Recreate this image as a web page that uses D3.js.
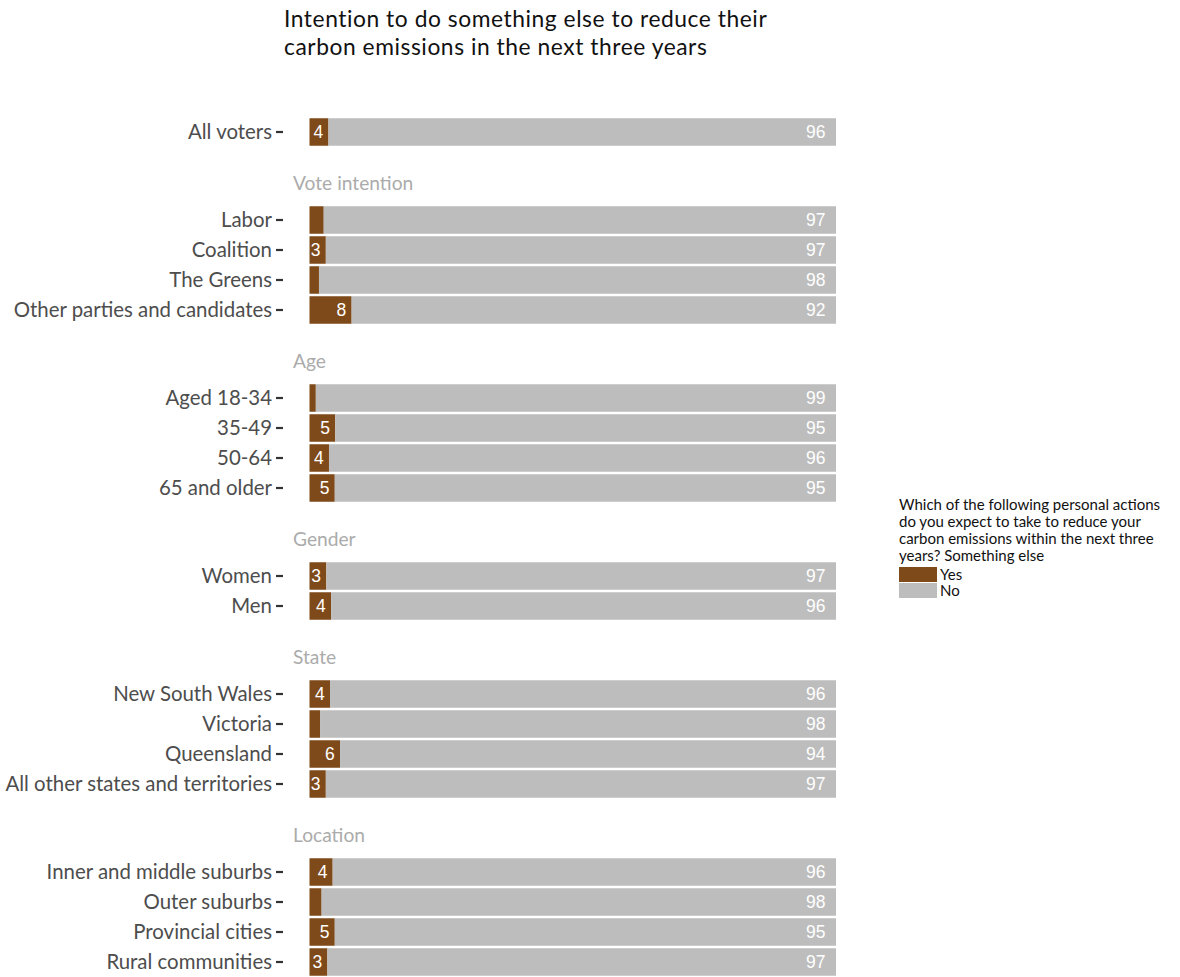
<!DOCTYPE html>
<html>
<head>
<meta charset="utf-8">
<script src="https://cdn.jsdelivr.net/npm/d3@7"></script>
<style>
  body { margin: 0; background: #fff; }
  svg { display: block; }
</style>
</head>
<body>
<svg id="chart" width="1180" height="977"></svg>
<script>
// ---- Data ----
const groupNames = ["", "Vote intention", "Age", "Gender", "State", "Location"];
const categories = [
  ["All voters"],
  ["Labor", "Coalition", "The Greens", "Other parties and candidates"],
  ["Aged 18-34", "35-49", "50-64", "65 and older"],
  ["Women", "Men"],
  ["New South Wales", "Victoria", "Queensland", "All other states and territories"],
  ["Inner and middle suburbs", "Outer suburbs", "Provincial cities", "Rural communities"]
];
const yesValues = [
  [3.6],
  [2.7, 3.1, 1.8, 8.0],
  [1.2, 4.9, 3.7, 4.8],
  [3.2, 4.1],
  [3.9, 2.0, 5.8, 3.1],
  [4.4, 2.3, 4.8, 3.4]
];
const noValues = yesValues.map(g => g.map(v => 100 - v));
const seriesNames = ["Yes", "No"];
const seriesColors = ["#7f4a19", "#bdbdbd"];
const titleLines = ["Intention to do something else to reduce their", "carbon emissions in the next three years"];
const legendTitle = ["Which of the following personal actions", "do you expect to take to reduce your", "carbon emissions within the next three", "years? Something else"];

// ---- Layout ----
const svg = d3.select("#chart");
const labelFont = "Lato, 'Noto Sans', sans-serif";
const x = d3.scaleLinear().domain([0, 100]).range([309.5, 836]);

const pitch = 30, groupGap = 88, firstCenter = 132;
const rows = [];
const headings = [];
let c = firstCenter;
categories.forEach((cats, gi) => {
  if (gi > 0) {
    c += groupGap;
    headings.push({ name: groupNames[gi], y: c - 37 });
  }
  cats.forEach((cat, i) => {
    if (i > 0) c += pitch;
    rows.push({ cat, yes: yesValues[gi][i], no: noValues[gi][i], center: c });
  });
});

const bh = 27.5;
const color = d3.scaleOrdinal().domain(seriesNames).range(seriesColors);

// title
svg.append("g").selectAll("text").data(titleLines).join("text")
  .attr("x", 284).attr("y", (d, i) => 27 + i * 27.6)
  .attr("font-family", labelFont).attr("font-size", 22.8).attr("letter-spacing", 0.55).attr("fill", "#111")
  .text(d => d);

// headings
svg.append("g").selectAll("text").data(headings).join("text")
  .attr("x", 293).attr("y", d => d.y).attr("dy", "0.35em")
  .attr("font-family", labelFont).attr("font-size", 19.2).attr("fill", "#ababab")
  .text(d => d.name);

// bars
const rowG = svg.append("g").selectAll("g").data(rows).join("g")
  .attr("transform", d => `translate(0,${d.center - bh / 2})`);

rowG.append("rect")
  .attr("x", x(0)).attr("width", d => x(d.yes) - x(0))
  .attr("height", bh).attr("fill", color("Yes"));
rowG.append("rect")
  .attr("x", d => x(d.yes)).attr("width", d => x(100) - x(d.yes))
  .attr("height", bh).attr("fill", color("No"));

// value labels
const numFont = "'Liberation Sans', Arial, sans-serif";
rowG.filter(d => d.yes >= 3).append("text")
  .attr("x", d => x(d.yes - 1)).attr("y", bh / 2).attr("dy", "0.36em")
  .attr("text-anchor", "end")
  .attr("font-family", numFont).attr("font-size", 17.5).attr("fill", "#fff")
  .text(d => d3.format(".0f")(d.yes));
rowG.append("text")
  .attr("x", x(98)).attr("y", bh / 2).attr("dy", "0.36em")
  .attr("text-anchor", "end")
  .attr("font-family", numFont).attr("font-size", 17.5).attr("fill", "#fff")
  .text(d => d3.format(".0f")(d.no));

// category axis (labels + ticks)
const axisG = svg.append("g").selectAll("g").data(rows).join("g")
  .attr("transform", d => `translate(0,${d.center})`);
axisG.append("line").attr("x1", 276).attr("x2", 283)
  .attr("stroke", "#333").attr("stroke-width", 2.2);
axisG.append("text")
  .attr("x", 272).attr("dy", "0.35em").attr("text-anchor", "end")
  .attr("font-family", labelFont).attr("font-size", 20.4).attr("fill", "#4d4d4d")
  .text(d => d.cat);

// legend
const lg = svg.append("g").attr("transform", "translate(899,0)");
lg.selectAll("text.t").data(legendTitle).join("text").attr("class", "t")
  .attr("x", 0).attr("y", (d, i) => 510 + i * 17)
  .attr("font-family", labelFont).attr("font-size", 15).attr("fill", "#111")
  .text(d => d);
const li = lg.selectAll("g.item").data(seriesNames).join("g").attr("class", "item")
  .attr("transform", (d, i) => `translate(0,${567 + i * 16})`);
li.append("rect").attr("width", 38).attr("height", 15).attr("fill", d => color(d));
li.append("text").attr("x", 41).attr("y", 7.5).attr("dy", "0.35em")
  .attr("font-family", labelFont).attr("font-size", 15).attr("fill", "#111")
  .text(d => d);
</script>
</body>
</html>
